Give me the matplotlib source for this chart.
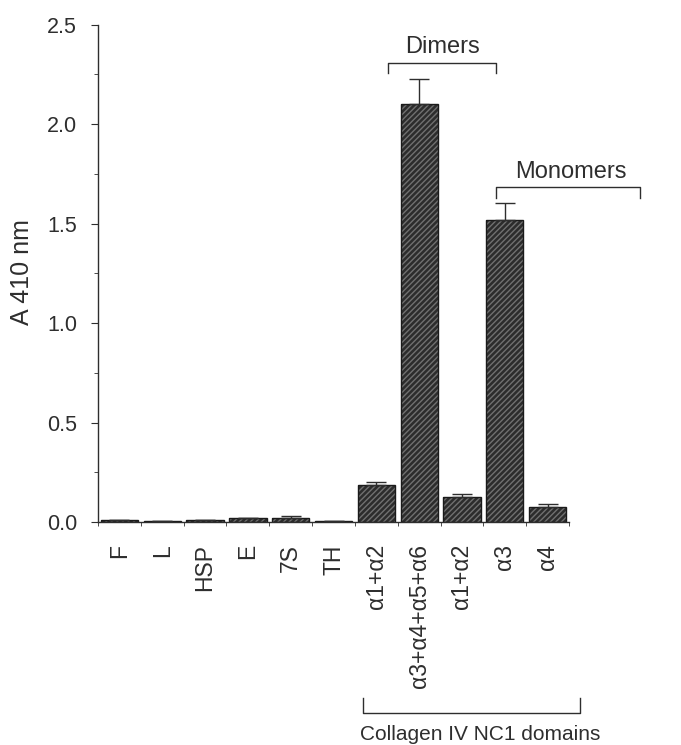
import matplotlib.pyplot as plt
import numpy as np

plt.rcParams['font.family'] = ['Liberation Sans', 'DejaVu Sans']
plt.rcParams['hatch.linewidth'] = 1.0

labels = ['F', 'L', 'HSP', 'E', '7S', 'TH', 'α1+α2', 'α3+α4+α5+α6', 'α1+α2', 'α3', 'α4']
values = [0.010, 0.005, 0.008, 0.018, 0.018, 0.004, 0.186, 2.10, 0.124, 1.52, 0.077]
errors = [0.0, 0.0, 0.0, 0.004, 0.010, 0.0, 0.016, 0.125, 0.016, 0.085, 0.012]

ink = '#2e2e2e'
W, H = 681, 745
fig = plt.figure(figsize=(6.81, 7.45), dpi=100)
ax = fig.add_axes([0.144, 0.2993, 0.6915, 0.6677])

x = np.arange(len(labels))
# hatched fill, then outline on top
ax.bar(x, values, width=0.87, color='#2c2c2c', hatch='//////', edgecolor='#707070', linewidth=0)
ax.bar(x, values, width=0.87, fill=False, edgecolor='#1a1a1a', linewidth=1.0)
ax.errorbar(x, values, yerr=[np.zeros(len(errors)), errors], fmt='none',
            ecolor=ink, elinewidth=1.0, capsize=7, capthick=1.0)

ax.set_xlim(-0.5, len(labels) - 0.5)
ax.set_ylim(0, 2.5)
ax.set_yticks([0, 0.5, 1.0, 1.5, 2.0, 2.5])
ax.set_yticklabels(['0.0', '0.5', '1.0', '1.5', '2.0', '2.5'])
ax.set_yticks(np.arange(0.25, 2.5, 0.5), minor=True)
ax.set_xticks(x)
ax.set_xticklabels(labels, rotation=90, va='top')
ax.set_xticks(np.arange(-0.5, len(labels)), minor=True)
ax.tick_params(axis='x', which='major', length=0, pad=16, labelsize=16.5, labelcolor=ink)
ax.tick_params(axis='x', which='minor', length=3, color=ink)
ax.tick_params(axis='y', which='major', length=5, color=ink, labelsize=15.5, labelcolor=ink, pad=10)
ax.tick_params(axis='y', which='minor', length=3, color=ink)
for s in ['top', 'right']:
    ax.spines[s].set_visible(False)
for s in ['left', 'bottom']:
    ax.spines[s].set_color(ink)
    ax.spines[s].set_linewidth(1.0)

# y label placed in figure coords
fig.text(22 / W, 1 - 272 / H, 'A 410 nm', rotation=90, ha='center', va='center',
         fontsize=18, color=ink)

# group brackets in figure pixel coords
def bracket(x0, x1, y, dy, text, tx, ty, size):
    xs = np.array([x0, x0, x1, x1]) / W
    ys = 1 - np.array([y + dy, y, y, y + dy]) / H
    fig.add_artist(plt.Line2D(xs, ys, color=ink, lw=1.0))
    fig.text(tx / W, 1 - ty / H, text, ha='center', va='center',
             fontsize=size, color=ink)

bracket(388, 496, 63, 10, 'Dimers', 443, 47, 17)
bracket(496, 640, 187, 11, 'Monomers', 571, 172, 17)
bracket(363, 580, 713, -15, 'Collagen IV NC1 domains', 480, 735, 15)

fig.savefig('out.png', dpi=100)
